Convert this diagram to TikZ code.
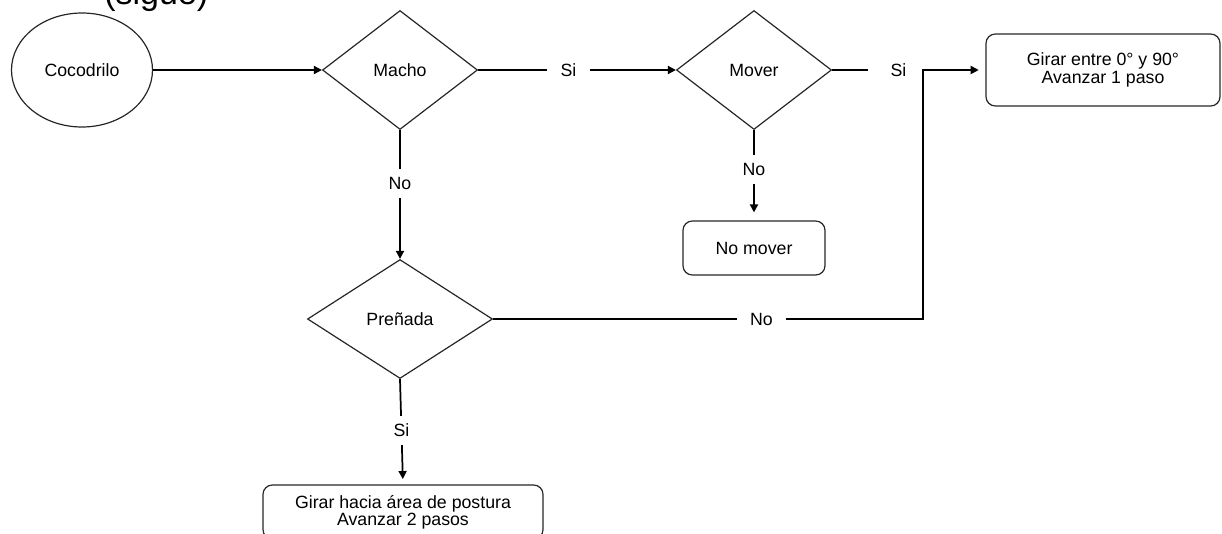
\documentclass[tikz,border=0pt]{standalone}
\usepackage{fontspec}
\setmainfont{Liberation Sans}
\usetikzlibrary{shapes.geometric,arrows.meta}
\begin{document}
\begin{tikzpicture}[x=0.75pt,y=-0.75pt,
  every node/.style={font=\fontsize{13.3pt}{13pt}\selectfont, text=black},
  shapeline/.style={draw=black!85, line width=0.9pt},
  startnode/.style={shapeline, ellipse, minimum width=105.75pt, minimum height=85.5pt, inner sep=0pt},
  decision/.style={shapeline, diamond, inner sep=0pt, minimum height=89.25pt},
  action/.style={shapeline, rectangle, rounded corners=7pt, align=center, inner sep=0pt},
  link/.style={line width=1.3pt, black},
  flow/.style={link, -{Triangle[length=6pt,width=6pt]}},
  htag/.style={fill=white, inner xsep=10pt, inner ysep=3pt},
  vtag/.style={fill=white, inner xsep=3pt, inner ysep=6pt},
  headingfont/.style={font=\fontsize{25.5pt}{25.5pt}\selectfont}
]
\useasboundingbox (0,0) rectangle (1222,533);

% heading, mostly above the top edge, clipped to the sheet
\begin{scope}
  \clip (0,0) rectangle (1222,533);
  \node[anchor=base west, inner sep=0pt, headingfont] (heading) at (104,4) {(sigue)};
\end{scope}

% shapes
\node[startnode] (cocodrilo) at (82,70) {Cocodrilo};
\node[decision, minimum width=116.25pt] (macho) at (400,70) {Macho};
\node[decision, minimum width=116.25pt] (mover) at (754,70) {Mover};
\node[decision, minimum width=138.75pt] (prenada) at (400,319) {Preñada};
\node[action, minimum width=175.5pt, minimum height=54pt] (girar) at (1103,70) {Girar entre 0° y 90°\\Avanzar 1 paso};
\node[action, minimum width=106.5pt, minimum height=40.5pt] (nomover) at (754,248) {No mover};
\begin{scope}
  \clip (0,0) rectangle (1222,533);
  \node[action, minimum width=210pt, minimum height=40.5pt] (postura) at (403,512) {Girar hacia área de postura\\Avanzar 2 pasos};
\end{scope}

\coordinate (junction) at (923,70);

% connectors
\draw[flow] (cocodrilo) -- (macho.west);
\draw[flow] (macho.east) -- node[htag, pos=0.457] {Si} (mover.west);
\draw[link] (mover.east) -- node[htag, pos=0.73, inner xsep=17pt] {Si} (junction);
\draw[flow] (macho.south) -- node[vtag, pos=0.415] {No} (prenada.north);
\draw[flow, shorten >=6pt] (mover.south) -- node[vtag, pos=0.435] {No} (nomover.north);
\draw[flow, shorten >=4pt] (prenada.south) -- node[vtag, pos=0.486] {Si} (postura.north);
\draw[flow, shorten >=5pt] (prenada.east) -- node[htag, pos=0.624] {No} (prenada.east -| junction) -- (junction) -- (girar.west);
\end{tikzpicture}
\end{document}
